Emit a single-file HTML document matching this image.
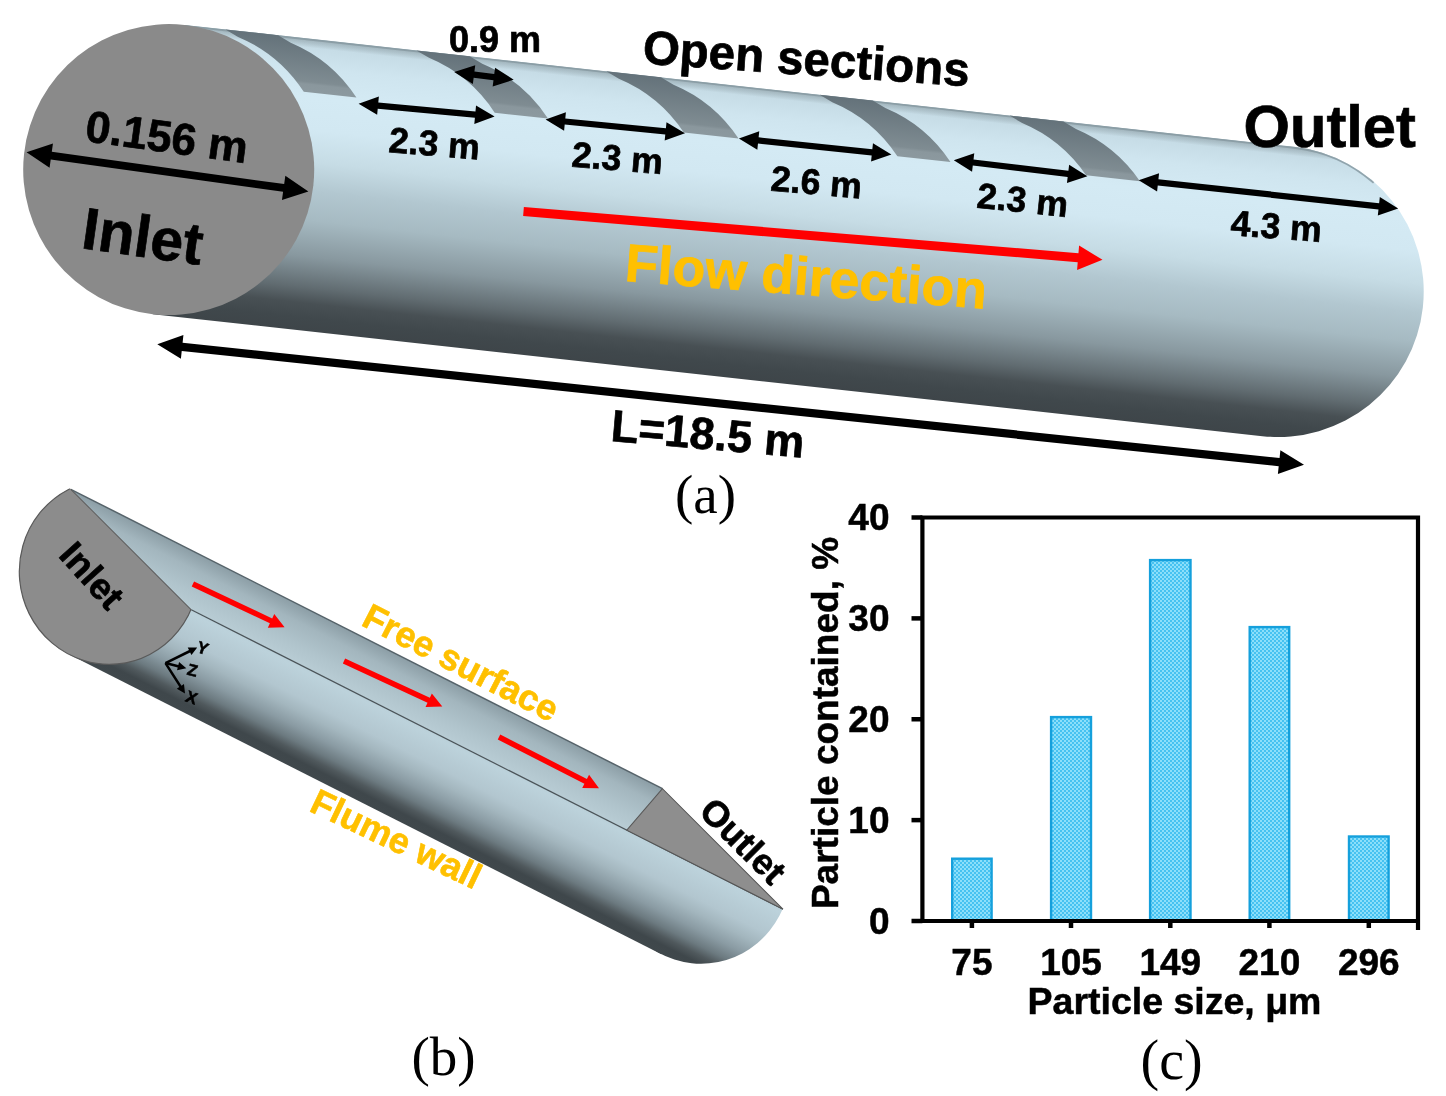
<!DOCTYPE html>
<html><head><meta charset="utf-8"><style>html,body{margin:0;padding:0;background:#fff;overflow:hidden;}svg{display:block;will-change:transform;}</style></head>
<body><svg width="1446" height="1096" viewBox="0 0 1446 1096"><defs>
<linearGradient id="gA" gradientUnits="userSpaceOnUse" x1="0" y1="-145.5" x2="0" y2="145.5">
 <stop offset="0" stop-color="#b4c8d0"/>
 <stop offset="0.03" stop-color="#c6dce6"/>
 <stop offset="0.10" stop-color="#cfe5ef"/>
 <stop offset="0.20" stop-color="#d4eaf4"/>
 <stop offset="0.31" stop-color="#d2e8f2"/>
 <stop offset="0.42" stop-color="#c6dce5"/>
 <stop offset="0.52" stop-color="#b2c7d0"/>
 <stop offset="0.62" stop-color="#a6bac2"/>
 <stop offset="0.745" stop-color="#88989f"/>
 <stop offset="0.85" stop-color="#616c71"/>
 <stop offset="0.905" stop-color="#485054"/>
 <stop offset="0.955" stop-color="#40484c"/>
 <stop offset="1" stop-color="#3e4549"/>
</linearGradient>
<linearGradient id="gSec" gradientUnits="userSpaceOnUse" x1="0" y1="-145.5" x2="0" y2="-92">
 <stop offset="0" stop-color="#64727a"/>
 <stop offset="0.8" stop-color="#7f8c92"/>
 <stop offset="0.85" stop-color="#8a979d"/>
 <stop offset="1" stop-color="#8c999f"/>
</linearGradient>
<linearGradient id="gFS" gradientUnits="userSpaceOnUse" x1="0" y1="0" x2="0" y2="53">
 <stop offset="0" stop-color="#8c9ea6"/>
 <stop offset="0.3" stop-color="#a3b6be"/>
 <stop offset="0.7" stop-color="#b0c4cc"/>
 <stop offset="1" stop-color="#b8ccd4"/>
</linearGradient>
<linearGradient id="gWall" gradientUnits="userSpaceOnUse" x1="0" y1="53" x2="0" y2="148">
 <stop offset="0" stop-color="#bad0d9"/>
 <stop offset="0.04" stop-color="#bcd2db"/>
 <stop offset="0.31" stop-color="#b2c6cf"/>
 <stop offset="0.445" stop-color="#a3b6be"/>
 <stop offset="0.60" stop-color="#8a9ba3"/>
 <stop offset="0.74" stop-color="#6c7a80"/>
 <stop offset="0.83" stop-color="#50595d"/>
 <stop offset="0.91" stop-color="#3f474b"/>
 <stop offset="1" stop-color="#40484c"/>
</linearGradient>
<linearGradient id="gEdge" x1="0" y1="0" x2="0" y2="1">
 <stop offset="0" stop-color="#8a9ca4" stop-opacity="0.55"/>
 <stop offset="1" stop-color="#8a9ca4" stop-opacity="0"/>
</linearGradient>
<pattern id="chk" width="4" height="4" patternUnits="userSpaceOnUse">
 <rect width="4" height="4" fill="#46c2f1"/>
 <rect width="2" height="2" fill="#8cdffa"/>
 <rect x="2" y="2" width="2" height="2" fill="#8cdffa"/>
</pattern>
</defs>
<rect width="1446" height="1096" fill="#fff"/>
<g transform="translate(168.7,169.6) rotate(6.27)">
<path d="M0,-145.5 H1116.2 A145.5,145.5 0 0 1 1116.2,145.5 H0 Z" fill="url(#gA)"/>
<clipPath id="cpBody"><path d="M0,-145.5 H1116.2 A145.5,145.5 0 0 1 1116.2,145.5 H0 Z"/></clipPath>
<g clip-path="url(#cpBody)"><path d="M0,-145.5 H1116.2 A145.5,145.5 0 0 1 1199.66,-119.19" fill="none" stroke="#7d9098" stroke-width="3.6" opacity="0.75"/>
<rect x="0" y="-145.5" width="1261.7" height="9" fill="url(#gEdge)"/></g>
<path d="M41.1,-145.5 L54.45,-139.5 A145.5,145.5 0 0 1 125.74,-92.1 H178.74 A145.5,145.5 0 0 0 107.45,-139.5 L94.1,-145.5 Z" fill="url(#gSec)"/>
<path d="M233.2,-145.5 L246.55,-139.5 A145.5,145.5 0 0 1 317.84,-92.1 H371.44 A145.5,145.5 0 0 0 300.15,-139.5 L286.8,-145.5 Z" fill="url(#gSec)"/>
<path d="M424.2,-145.5 L437.55,-139.5 A145.5,145.5 0 0 1 508.02,-93.1 H563.02 A145.5,145.5 0 0 0 492.55,-139.5 L479.2,-145.5 Z" fill="url(#gSec)"/>
<path d="M638.9,-145.5 L652.25,-139.5 A145.5,145.5 0 0 1 722.88,-92.9 H776.28 A145.5,145.5 0 0 0 705.65,-139.5 L692.3,-145.5 Z" fill="url(#gSec)"/>
<path d="M829.9,-145.5 L843.25,-139.5 A145.5,145.5 0 0 1 912.53,-94.5 H966.73 A145.5,145.5 0 0 0 897.45,-139.5 L884.1,-145.5 Z" fill="url(#gSec)"/>
<circle cx="0" cy="0" r="145.5" fill="#8a8a8a"/>
</g>
<polygon points="26.5,152.2 49.57,167.78 50.72,159.51 283.1,191.82 281.95,200.09 308.4,191.4 285.33,175.82 284.18,184.09 51.8,151.78 52.95,143.51" fill="#000"/>
<polygon points="157.3,344.2 180.91,358.75 181.73,350.89 1278.71,466.26 1277.88,474.12 1304,464.8 1280.39,450.25 1279.57,458.11 182.59,342.74 183.42,334.88" fill="#000"/>
<polygon points="358.6,103.8 377.16,114.82 377.73,108.7 474.9,117.77 474.32,123.9 494.6,116.5 476.04,105.48 475.47,111.6 378.3,102.53 378.88,96.4" fill="#000"/>
<polygon points="454.2,72.1 472.84,84.06 473.65,77.71 493.47,80.24 492.66,86.59 513.7,79.7 495.06,67.74 494.25,74.09 474.43,71.56 475.24,65.21" fill="#000"/>
<polygon points="545.6,119.6 564.1,130.71 564.7,124.59 665.29,134.48 664.69,140.6 685,133.3 666.5,122.19 665.9,128.31 565.31,118.42 565.91,112.3" fill="#000"/>
<polygon points="738.9,138.4 757.33,149.63 757.97,143.52 871.68,155.45 871.04,161.56 891.4,154.4 872.97,143.17 872.33,149.28 758.62,137.35 759.26,131.24" fill="#000"/>
<polygon points="953.8,160.2 972.06,171.7 972.79,165.6 1067.67,176.96 1066.94,183.07 1087.4,176.2 1069.14,164.7 1068.41,170.8 973.53,159.44 974.26,153.33" fill="#000"/>
<polygon points="1138.7,180.3 1157.09,191.6 1157.75,185.48 1378.48,209.38 1377.82,215.5 1398.2,208.4 1379.81,197.1 1379.15,203.22 1158.42,179.32 1159.08,173.2" fill="#000"/>
<polygon points="523.13,216.08 1077.71,262.25 1077.07,269.98 1102.5,259.8 1079.1,245.56 1078.46,253.28 523.87,207.12" fill="#ff0000"/>
<text transform="translate(84,141) rotate(7.8)" font-size="44.5" font-family="Liberation Sans, sans-serif" font-weight="bold" fill="#000" text-anchor="start" stroke="#000" stroke-width="0.7">0.156 m</text>
<text transform="translate(80,248) rotate(8.1)" font-size="59" font-family="Liberation Sans, sans-serif" font-weight="bold" fill="#000" text-anchor="start" stroke="#000" stroke-width="0.7">Inlet</text>
<text transform="translate(449,52.2)" font-size="36" font-family="Liberation Sans, sans-serif" font-weight="bold" fill="#000" text-anchor="start" stroke="#000" stroke-width="0.7">0.9 m</text>
<text transform="translate(642,63.5) rotate(4)" font-size="47.5" font-family="Liberation Sans, sans-serif" font-weight="bold" fill="#000" text-anchor="start" stroke="#000" stroke-width="0.7">Open sections</text>
<text transform="translate(1243.5,146.5)" font-size="59.7" font-family="Liberation Sans, sans-serif" font-weight="bold" fill="#000" text-anchor="start" stroke="#000" stroke-width="0.7">Outlet</text>
<text transform="translate(388,152) rotate(4.7)" font-size="35.7" font-family="Liberation Sans, sans-serif" font-weight="bold" fill="#000" text-anchor="start" stroke="#000" stroke-width="0.7">2.3 m</text>
<text transform="translate(571,166.5) rotate(4.7)" font-size="35.7" font-family="Liberation Sans, sans-serif" font-weight="bold" fill="#000" text-anchor="start" stroke="#000" stroke-width="0.7">2.3 m</text>
<text transform="translate(770,190.5) rotate(5)" font-size="35.7" font-family="Liberation Sans, sans-serif" font-weight="bold" fill="#000" text-anchor="start" stroke="#000" stroke-width="0.7">2.6 m</text>
<text transform="translate(976,207.5) rotate(6)" font-size="35.7" font-family="Liberation Sans, sans-serif" font-weight="bold" fill="#000" text-anchor="start" stroke="#000" stroke-width="0.7">2.3 m</text>
<text transform="translate(1230,235) rotate(4.4)" font-size="35.7" font-family="Liberation Sans, sans-serif" font-weight="bold" fill="#000" text-anchor="start" stroke="#000" stroke-width="0.7">4.3 m</text>
<text transform="translate(624,281) rotate(4.4)" font-size="53.5" font-family="Liberation Sans, sans-serif" font-weight="bold" fill="#ffc000" text-anchor="start" stroke="#ffc000" stroke-width="0.7">Flow direction</text>
<text transform="translate(610,441) rotate(4.9)" font-size="45" font-family="Liberation Sans, sans-serif" font-weight="bold" fill="#000" text-anchor="start" stroke="#000" stroke-width="0.7">L=18.5 m</text>
<text transform="translate(675,512.5)" font-size="55" font-family="Liberation Serif, serif" fill="#000" text-anchor="start" >(a)</text>
<g transform="translate(70.8,489.3) rotate(26.84)">
<clipPath id="cpDisc"><polygon points="-285.06,-93.49 446.96,146.59 353.47,431.65 -378.55,191.57"/></clipPath>
<clipPath id="cpBelow"><rect x="-100" y="53.1" width="1200" height="200"/></clipPath>
<rect x="73.8" y="53.1" width="663.1" height="95.06" fill="url(#gWall)"/>
<g clip-path="url(#cpBelow)"><path d="M658.64,104.33 A89.6,92.3 147.82 0 1 810.32,8.89 A89.6,92.3 147.82 0 1 658.64,104.33 Z" fill="url(#gWall)"/></g>
<path d="M0,0 L663.1,0 L650,53.1 L161.9,53.1 Z" fill="url(#gFS)"/>
<path d="M0,0 L663.1,0" stroke="#56636a" stroke-width="1.5" fill="none"/>
<path d="M161.9,53.1 L825,53.1" stroke="#4a5358" stroke-width="1.2" fill="none"/>
<path d="M663.1,0 L650,53.1 L825,53.1 Z" fill="#8e8e8e" stroke="#555" stroke-width="1"/>
<g clip-path="url(#cpDisc)"><ellipse cx="71.38" cy="56.61" rx="89.6" ry="92.3" transform="rotate(147.82 71.38 56.61)" fill="#8c8c8c" stroke="#5a5a5a" stroke-width="1.2"/></g>
<path d="M0,0 L161.9,53.1" stroke="#5a5a5a" stroke-width="1"/>
</g>
<polygon points="191.72,586.39 269.87,623.37 267.83,627.66 284.6,627.3 274.25,614.1 272.22,618.4 194.08,581.41" fill="#ff0000"/>
<polygon points="342.84,663.49 427.54,702.78 425.54,707.09 442.3,706.6 431.85,693.48 429.85,697.79 345.16,658.51" fill="#ff0000"/>
<polygon points="497.75,739.45 584.4,783.81 582.23,788.04 599,788.2 589.07,774.69 586.9,778.92 500.25,734.55" fill="#ff0000"/>
<polygon points="166.07,664.27 190.15,652.42 191.45,655.07 197.2,647.5 187.7,647.44 189,650.09 164.93,661.93" fill="#000"/>
<polygon points="165.19,664.36 177.73,667.44 177.03,670.3 186.3,668.2 179.06,662.05 178.35,664.91 165.81,661.84" fill="#000"/>
<polygon points="164.41,663.8 179.32,687.05 176.83,688.64 185,693.5 183.99,684.05 181.5,685.64 166.59,662.4" fill="#000"/>
<text transform="translate(202.9,647.8) rotate(18)" font-size="16.5" font-weight="bold" font-family="Liberation Sans, sans-serif" text-anchor="middle" dy="6" stroke="#000" stroke-width="0.5">Y</text>
<text transform="translate(192.7,669.8) rotate(14)" font-size="16.5" font-weight="bold" font-family="Liberation Sans, sans-serif" text-anchor="middle" dy="6" stroke="#000" stroke-width="0.5">Z</text>
<text transform="translate(191.7,697.3) rotate(20)" font-size="16.5" font-weight="bold" font-family="Liberation Sans, sans-serif" text-anchor="middle" dy="6" stroke="#000" stroke-width="0.5">X</text>
<text transform="translate(57.5,556) rotate(48)" font-size="36.5" font-family="Liberation Sans, sans-serif" font-weight="bold" fill="#000" text-anchor="start" stroke="#000" stroke-width="0.7">Inlet</text>
<text transform="translate(697.5,812.9) rotate(45)" font-size="36" font-family="Liberation Sans, sans-serif" font-weight="bold" fill="#000" text-anchor="start" stroke="#000" stroke-width="0.7">Outlet</text>
<text transform="translate(360,624.7) rotate(27.2)" font-size="36" font-family="Liberation Sans, sans-serif" font-weight="bold" fill="#ffc000" text-anchor="start" stroke="#ffc000" stroke-width="0.6">Free surface</text>
<text transform="translate(308,810.5) rotate(25.5)" font-size="36" font-family="Liberation Sans, sans-serif" font-weight="bold" fill="#ffc000" text-anchor="start" stroke="#ffc000" stroke-width="0.6">Flume wall</text>
<text transform="translate(411.5,1075)" font-size="55" font-family="Liberation Serif, serif" fill="#000" text-anchor="start" >(b)</text>
<rect x="952.2" y="858.7" width="39.4" height="62.3" fill="url(#chk)" stroke="#15a0dc" stroke-width="2.4"/>
<rect x="1051.1" y="717.1" width="39.9" height="203.9" fill="url(#chk)" stroke="#15a0dc" stroke-width="2.4"/>
<rect x="1150.1" y="560.1" width="40.4" height="360.9" fill="url(#chk)" stroke="#15a0dc" stroke-width="2.4"/>
<rect x="1249.7" y="627.1" width="39.5" height="293.9" fill="url(#chk)" stroke="#15a0dc" stroke-width="2.4"/>
<rect x="1349" y="836.5" width="39.6" height="84.5" fill="url(#chk)" stroke="#15a0dc" stroke-width="2.4"/>
<path d="M922.4,517.5 H1418 V928 M922.4,517.5 V921 H1418" stroke="#000" stroke-width="4.2" fill="none" stroke-linecap="square"/>
<path d="M911.5,921 H922.4" stroke="#000" stroke-width="4.5"/>
<text transform="translate(889.5,933.5)" font-size="37" font-family="Liberation Sans, sans-serif" font-weight="bold" fill="#000" text-anchor="end" stroke="#000" stroke-width="0.5">0</text>
<path d="M911.5,820.12 H922.4" stroke="#000" stroke-width="4.5"/>
<text transform="translate(889.5,832.62)" font-size="37" font-family="Liberation Sans, sans-serif" font-weight="bold" fill="#000" text-anchor="end" stroke="#000" stroke-width="0.5">10</text>
<path d="M911.5,719.25 H922.4" stroke="#000" stroke-width="4.5"/>
<text transform="translate(889.5,731.75)" font-size="37" font-family="Liberation Sans, sans-serif" font-weight="bold" fill="#000" text-anchor="end" stroke="#000" stroke-width="0.5">20</text>
<path d="M911.5,618.38 H922.4" stroke="#000" stroke-width="4.5"/>
<text transform="translate(889.5,630.88)" font-size="37" font-family="Liberation Sans, sans-serif" font-weight="bold" fill="#000" text-anchor="end" stroke="#000" stroke-width="0.5">30</text>
<path d="M911.5,517.5 H922.4" stroke="#000" stroke-width="4.5"/>
<text transform="translate(889.5,530)" font-size="37" font-family="Liberation Sans, sans-serif" font-weight="bold" fill="#000" text-anchor="end" stroke="#000" stroke-width="0.5">40</text>
<path d="M971.9,921 V928" stroke="#000" stroke-width="4.5"/>
<text transform="translate(971.9,974.5)" font-size="37" font-family="Liberation Sans, sans-serif" font-weight="bold" fill="#000" text-anchor="middle" stroke="#000" stroke-width="0.5">75</text>
<path d="M1071,921 V928" stroke="#000" stroke-width="4.5"/>
<text transform="translate(1071,974.5)" font-size="37" font-family="Liberation Sans, sans-serif" font-weight="bold" fill="#000" text-anchor="middle" stroke="#000" stroke-width="0.5">105</text>
<path d="M1170.3,921 V928" stroke="#000" stroke-width="4.5"/>
<text transform="translate(1170.3,974.5)" font-size="37" font-family="Liberation Sans, sans-serif" font-weight="bold" fill="#000" text-anchor="middle" stroke="#000" stroke-width="0.5">149</text>
<path d="M1269.4,921 V928" stroke="#000" stroke-width="4.5"/>
<text transform="translate(1269.4,974.5)" font-size="37" font-family="Liberation Sans, sans-serif" font-weight="bold" fill="#000" text-anchor="middle" stroke="#000" stroke-width="0.5">210</text>
<path d="M1368.8,921 V928" stroke="#000" stroke-width="4.5"/>
<text transform="translate(1368.8,974.5)" font-size="37" font-family="Liberation Sans, sans-serif" font-weight="bold" fill="#000" text-anchor="middle" stroke="#000" stroke-width="0.5">296</text>
<text transform="translate(1174.5,1013.6)" font-size="37.5" font-family="Liberation Sans, sans-serif" font-weight="bold" fill="#000" text-anchor="middle" stroke="#000" stroke-width="0.5">Particle size, μm</text>
<text transform="translate(838.4,723) rotate(-90)" font-size="37" font-family="Liberation Sans, sans-serif" font-weight="bold" fill="#000" text-anchor="middle" stroke="#000" stroke-width="0.5">Particle contained, %</text>
<text transform="translate(1140.5,1079.3)" font-size="56" font-family="Liberation Serif, serif" fill="#000" text-anchor="start" >(c)</text></svg></body></html>
